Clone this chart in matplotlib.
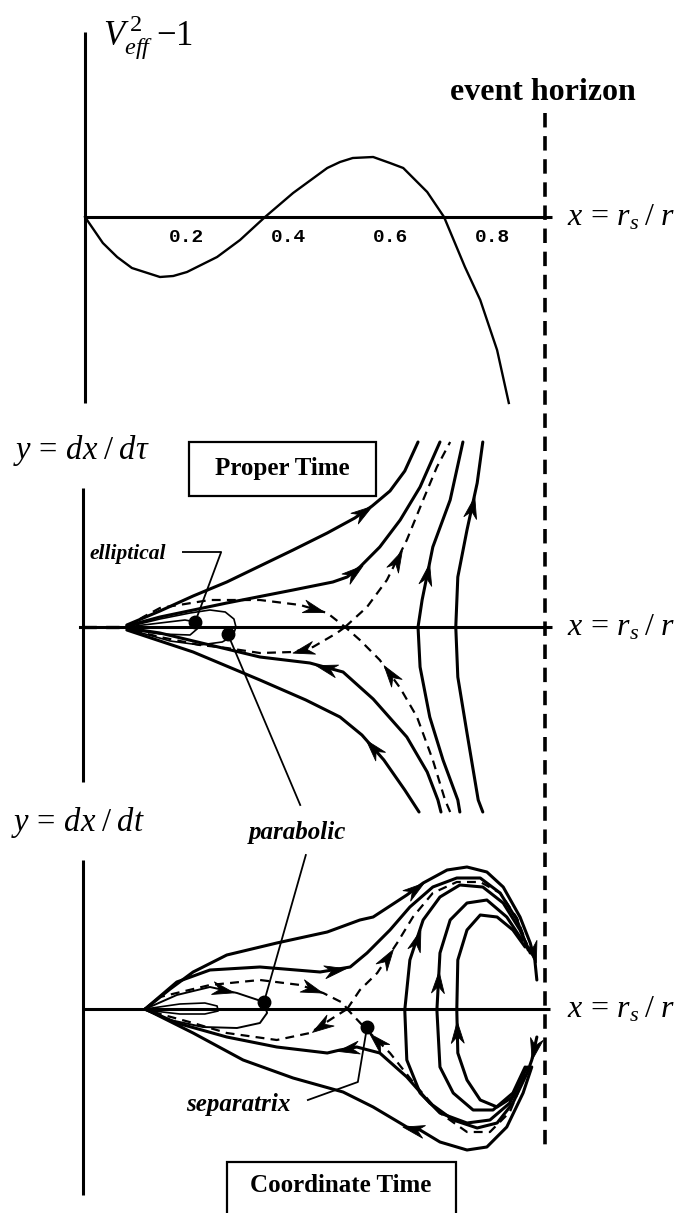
import numpy as np
import matplotlib
matplotlib.use("Agg")
import matplotlib.pyplot as plt
from matplotlib.path import Path
from matplotlib.markers import MarkerStyle
from matplotlib.transforms import Affine2D
from matplotlib.patches import Rectangle
from matplotlib.lines import Line2D

plt.rcParams['mathtext.fontset'] = 'custom'
plt.rcParams['mathtext.rm'] = 'Liberation Serif'
plt.rcParams['mathtext.it'] = 'Liberation Serif:italic'
plt.rcParams['mathtext.bf'] = 'Liberation Serif:bold'
plt.rcParams['font.family'] = ['Liberation Serif', 'DejaVu Serif']

# ---------------- effective potential  V_eff^2 - 1  vs  x = r_s / r ----------------
veff_x = [0.0, 0.035, 0.063, 0.092, 0.147, 0.173, 0.200, 0.259, 0.304, 0.353, 0.408,
          0.475, 0.500, 0.525, 0.565, 0.598, 0.624, 0.671, 0.704, 0.745, 0.775,
          0.808, 0.831]
veff_y = [0.0, -0.26, -0.40, -0.51, -0.60, -0.59, -0.55, -0.40, -0.23, 0.0, 0.24,
          0.49, 0.55, 0.59, 0.60, 0.54, 0.49, 0.25, 0.0, -0.50, -0.83,
          -1.33, -1.86]
tick_values = [0.2, 0.4, 0.6, 0.8]
tick_labels = ["0.2", "0.4", "0.6", "0.8"]
horizon_x = 0.902

# ---------------- phase portrait, proper time: y = dx/dtau ----------------
tau_up_outer = [(0.082, 0.02), (0.147, 0.16), (0.212, 0.31), (0.278, 0.45), (0.343, 0.61),
                (0.408, 0.77), (0.475, 0.94), (0.529, 1.09), (0.563, 1.21), (0.598, 1.36),
                (0.627, 1.56), (0.653, 1.85)]
tau_up_inner = [(0.082, 0.01), (0.147, 0.10), (0.278, 0.24), (0.408, 0.37), (0.486, 0.45),
                (0.514, 0.50), (0.539, 0.60), (0.578, 0.80), (0.618, 1.07), (0.657, 1.40),
                (0.696, 1.85)]
tau_sep_in_upper = [(0.082, 0.0), (0.114, 0.10), (0.147, 0.19), (0.245, 0.27), (0.343, 0.27),
                    (0.422, 0.22), (0.475, 0.14), (0.510, 0.0)]
tau_sep_out_lower = [(0.510, 0.0), (0.494, -0.06), (0.447, -0.20), (0.408, -0.25), (0.343, -0.26),
                     (0.278, -0.21), (0.225, -0.18), (0.147, -0.10), (0.082, -0.02)]
tau_sep_out_upper = [(0.510, 0.0), (0.553, 0.20), (0.592, 0.47), (0.631, 0.87), (0.663, 1.27),
                     (0.690, 1.60), (0.716, 1.85)]
tau_sep_in_lower = [(0.716, -1.85), (0.706, -1.73), (0.682, -1.33), (0.651, -0.90), (0.618, -0.61),
                    (0.578, -0.33), (0.539, -0.13), (0.510, 0.0)]
tau_plunge_1 = [(0.735, -1.85), (0.731, -1.73), (0.702, -1.33), (0.676, -0.90), (0.657, -0.40),
                (0.653, 0.0), (0.661, 0.27), (0.682, 0.80), (0.716, 1.27), (0.741, 1.85)]
tau_plunge_2 = [(0.780, -1.85), (0.771, -1.73), (0.749, -1.06), (0.731, -0.50), (0.727, 0.0),
                (0.731, 0.50), (0.749, 0.97), (0.769, 1.44), (0.780, 1.85)]
tau_lo_inner = [(0.698, -1.85), (0.692, -1.73), (0.671, -1.45), (0.631, -1.10), (0.565, -0.72),
                (0.506, -0.45), (0.441, -0.36), (0.343, -0.30), (0.245, -0.18), (0.147, -0.06),
                (0.082, -0.01)]
tau_lo_outer = [(0.655, -1.85), (0.627, -1.63), (0.586, -1.33), (0.543, -1.08), (0.500, -0.90),
                (0.433, -0.73), (0.343, -0.53), (0.212, -0.25), (0.082, -0.03)]
tau_orbit_big = [(0.082, 0.0), (0.147, 0.08), (0.206, 0.14), (0.245, 0.17), (0.275, 0.15),
                 (0.292, 0.08), (0.296, 0.0), (0.290, -0.09), (0.269, -0.15), (0.225, -0.18),
                 (0.167, -0.14), (0.118, -0.07), (0.082, -0.02)]
tau_orbit_small = [(0.082, 0.0), (0.147, 0.04), (0.196, 0.07), (0.218, 0.05), (0.222, -0.01),
                   (0.206, -0.08), (0.147, -0.07), (0.082, -0.02)]
tau_axis_dash = [(-0.004, 0.0), (0.082, 0.0)]
tau_elliptical_pt = (0.216, 0.05)
tau_parabolic_pt = (0.280, -0.07)

# ---------------- phase portrait, coordinate time: y = dx/dt ----------------
t_up_outer = [(0.118, 0.0), (0.167, 0.20), (0.212, 0.37), (0.278, 0.54), (0.376, 0.66),
              (0.475, 0.77), (0.539, 0.89), (0.565, 0.92), (0.631, 1.14), (0.663, 1.26),
              (0.710, 1.39), (0.749, 1.42), (0.788, 1.37), (0.820, 1.22), (0.853, 0.92),
              (0.873, 0.66), (0.882, 0.49), (0.886, 0.29)]
t_up_inner = [(0.118, 0.0), (0.180, 0.27), (0.245, 0.39), (0.343, 0.42), (0.461, 0.37),
              (0.520, 0.42), (0.553, 0.56), (0.598, 0.79), (0.637, 1.02), (0.682, 1.22),
              (0.729, 1.31), (0.775, 1.31), (0.814, 1.16), (0.847, 0.89), (0.869, 0.59)]
t_sep_in_upper = [(0.118, 0.0), (0.147, 0.12), (0.245, 0.24), (0.343, 0.29), (0.422, 0.24),
                  (0.467, 0.16), (0.506, 0.06), (0.514, 0.0)]
t_sep_out_lower = [(0.514, 0.0), (0.486, -0.09), (0.441, -0.24), (0.376, -0.31), (0.278, -0.24),
                   (0.212, -0.14), (0.147, -0.05), (0.118, 0.0)]
t_sep_out_upper = [(0.514, 0.0), (0.539, 0.19), (0.573, 0.36), (0.612, 0.66), (0.643, 0.92),
                   (0.682, 1.16), (0.729, 1.27), (0.775, 1.27), (0.814, 1.16), (0.847, 0.91),
                   (0.867, 0.64)]
t_sep_in_lower = [(0.863, -0.66), (0.833, -1.03), (0.794, -1.23), (0.749, -1.23), (0.696, -1.04),
                  (0.651, -0.78), (0.598, -0.44), (0.549, -0.19), (0.514, 0.0)]
t_lo_inner = [(0.886, -0.28), (0.876, -0.51), (0.867, -0.64), (0.839, -0.94), (0.808, -1.14),
              (0.769, -1.19), (0.722, -1.11), (0.676, -0.94), (0.631, -0.68), (0.578, -0.44),
              (0.533, -0.38), (0.500, -0.41), (0.475, -0.44), (0.376, -0.38), (0.278, -0.28),
              (0.180, -0.14), (0.118, 0.0)]
t_lo_outer = [(0.876, -0.58), (0.859, -0.84), (0.827, -1.18), (0.788, -1.38), (0.749, -1.41),
              (0.696, -1.33), (0.657, -1.21), (0.631, -1.18), (0.565, -0.98), (0.506, -0.83),
              (0.408, -0.69), (0.310, -0.51), (0.212, -0.24), (0.118, 0.0)]
t_loop_a = [(0.863, -0.61), (0.833, -0.94), (0.794, -1.11), (0.749, -1.14), (0.696, -1.04),
            (0.657, -0.84), (0.631, -0.51), (0.627, -0.01), (0.637, 0.49), (0.663, 0.89),
            (0.696, 1.12), (0.735, 1.24), (0.780, 1.22), (0.820, 1.06), (0.853, 0.79),
            (0.873, 0.56)]
t_loop_b = [(0.863, -0.58), (0.839, -0.84), (0.800, -1.01), (0.761, -1.01), (0.722, -0.84),
            (0.696, -0.58), (0.690, -0.01), (0.696, 0.56), (0.716, 0.89), (0.749, 1.06),
            (0.788, 1.09), (0.827, 0.92), (0.857, 0.69)]
t_loop_c = [(0.867, -0.58), (0.839, -0.88), (0.808, -0.98), (0.775, -0.91), (0.749, -0.71),
            (0.731, -0.44), (0.729, -0.01), (0.731, 0.49), (0.749, 0.79), (0.775, 0.94),
            (0.808, 0.92), (0.839, 0.79), (0.863, 0.62)]
t_orbit_small = [(0.118, 0.0), (0.186, 0.05), (0.235, 0.06), (0.259, 0.03), (0.261, -0.02),
                 (0.235, -0.05), (0.186, -0.05), (0.118, -0.01)]
t_orbit_para = [(0.118, 0.0), (0.180, 0.14), (0.245, 0.22), (0.298, 0.16), (0.351, 0.07),
                (0.357, -0.04), (0.343, -0.14), (0.298, -0.19), (0.231, -0.18), (0.167, -0.11),
                (0.118, -0.01)]
t_parabolic_pt = (0.351, 0.07)
t_separatrix_pt = (0.553, -0.18)

# ---------------- figure layout (pixel bands of each panel) ----------------
W, H = 683, 1213
PX_PER_X = 510.0
X0_PX = 85.0
fig = plt.figure(figsize=(W / 100, H / 100), dpi=100)


def panel(top_px, bot_px, axis_px):
    ax = fig.add_axes([0, 1 - bot_px / H, 1, (bot_px - top_px) / H])
    ax.set_xlim(-X0_PX / PX_PER_X, (W - X0_PX) / PX_PER_X)
    ax.set_ylim(-(bot_px - axis_px) / 100.0, (axis_px - top_px) / 100.0)
    ax.axis('off')
    return ax


ax_v = panel(0, 410, 217)
ax_p = panel(410, 815, 627)
ax_c = panel(815, 1213, 1009)

K = 'black'
# barbed ("stealth") arrowhead pointing along +x, centred on the origin
ARROW_PATH = Path([(0.5, 0.0), (-0.5, 0.30), (-0.18, 0.0), (-0.5, -0.30), (0.5, 0.0)],
                  [Path.MOVETO, Path.LINETO, Path.LINETO, Path.LINETO, Path.CLOSEPOLY])


def curve(ax, pts, lw=2.2, dashed=False):
    xs, ys = zip(*pts)
    ls = (0, (4.0, 2.8)) if dashed else '-'
    ax.plot(xs, ys, color=K, lw=lw, ls=ls, solid_capstyle='round',
            solid_joinstyle='round', clip_on=False)


def arrow(ax, pts, i, sign=1, size=15.5):
    p0, p1 = np.array(pts[i], float), np.array(pts[i + 1], float)
    mid = (p0 + p1) / 2
    d = ax.transData.transform(p1) - ax.transData.transform(p0)
    ang = np.degrees(np.arctan2(d[1], d[0])) + (0 if sign > 0 else 180)
    m = MarkerStyle(ARROW_PATH, transform=Affine2D().rotate_deg(ang))
    ax.plot([mid[0]], [mid[1]], marker=m, ms=size, color=K, mec=K, mew=0.6,
            ls='none', clip_on=False)


def dot(ax, p, size=9):
    ax.plot([p[0]], [p[1]], 'o', color=K, ms=size, clip_on=False)


def axes_lines(ax, x_left, x_right, y_top, y_bot):
    ax.plot([x_left, x_right], [0, 0], color=K, lw=2.2, clip_on=False, solid_capstyle='butt')
    ax.plot([x_left, x_left], [y_bot, y_top], color=K, lw=2.2, clip_on=False, solid_capstyle='butt')


axis_label = r'$x\,=\,r_s\;/\;r$'

# ---------------- top panel ----------------
axes_lines(ax_v, 0.0, 0.916, 1.85, -1.86)
ax_v.plot(veff_x, veff_y, color=K, lw=1.7, clip_on=False, solid_joinstyle='round')
for tv, tl in zip(tick_values, tick_labels):
    ax_v.text(tv, -0.20, tl, family='Liberation Mono', weight='bold', fontsize=14,
              ha='center', va='center')
ax_v.text(0.035, 1.80, r'$V_{eff}^{\,2}\;{-}1$', fontsize=25, ha='left', va='center')
ax_v.text(horizon_x - 0.004, 1.17, 'event horizon', fontsize=23, weight='bold',
          ha='center', va='baseline')
ax_v.text(0.945, -0.08, axis_label, fontsize=23, ha='left', va='baseline')

# ---------------- proper-time panel ----------------
axes_lines(ax_p, -0.004, 0.916, 1.39, -1.55)
ax_p.plot([-0.01, -0.004], [0, 0], color=K, lw=2.2, clip_on=False)
curve(ax_p, tau_axis_dash, lw=2.4, dashed=True)
for c in (tau_up_outer, tau_up_inner, tau_plunge_1, tau_plunge_2, tau_lo_inner, tau_lo_outer):
    curve(ax_p, c)
for c in (tau_sep_in_upper, tau_sep_out_lower, tau_sep_out_upper, tau_sep_in_lower):
    curve(ax_p, c, lw=1.6, dashed=True)
curve(ax_p, tau_orbit_big, lw=1.2)
curve(ax_p, tau_orbit_small, lw=1.2)
arrow(ax_p, tau_up_outer, 7)
arrow(ax_p, tau_up_inner, 5)
arrow(ax_p, tau_sep_in_upper, 5)
arrow(ax_p, tau_sep_out_lower, 2)
arrow(ax_p, tau_sep_out_upper, 2)
arrow(ax_p, tau_sep_in_lower, 4)
arrow(ax_p, tau_plunge_1, 6)
arrow(ax_p, tau_plunge_2, 6)
arrow(ax_p, tau_lo_inner, 5)
arrow(ax_p, tau_lo_outer, 2)
dot(ax_p, tau_elliptical_pt)
dot(ax_p, tau_parabolic_pt)
ax_p.text(-0.141, 1.77, r'$y\,=\,dx\;/\;d\tau$', fontsize=23.5, ha='left', va='center')
ax_p.text(0.945, -0.08, axis_label, fontsize=23, ha='left', va='baseline')
ax_p.add_patch(Rectangle((0.204, 1.31), 0.367, 0.54, fill=False, lw=1.6, ec=K, clip_on=False))
ax_p.text(0.387, 1.58, 'Proper Time', fontsize=18, weight='bold', ha='center', va='center')
ax_p.text(0.008, 0.73, 'elliptical', fontsize=15.5, weight='bold', style='italic',
          ha='left', va='center')
ax_p.plot([0.192, 0.267, tau_elliptical_pt[0]], [0.75, 0.75, tau_elliptical_pt[1]],
          color=K, lw=1.3, clip_on=False)
ax_p.plot([tau_parabolic_pt[0], 0.422], [tau_parabolic_pt[1], -1.78], color=K, lw=1.3,
          clip_on=False)

# ---------------- coordinate-time panel ----------------
axes_lines(ax_c, -0.004, 0.912, 1.49, -1.86)
for c in (t_up_outer, t_up_inner, t_lo_inner, t_lo_outer, t_loop_a, t_loop_b, t_loop_c):
    curve(ax_c, c)
for c in (t_sep_in_upper, t_sep_out_lower, t_sep_out_upper, t_sep_in_lower):
    curve(ax_c, c, lw=1.6, dashed=True)
curve(ax_c, t_orbit_small, lw=1.2)
curve(ax_c, t_orbit_para, lw=1.4)
arrow(ax_c, t_up_outer, 8)
arrow(ax_c, t_up_inner, 4)
arrow(ax_c, t_up_outer, 15)
arrow(ax_c, t_sep_in_upper, 4)
arrow(ax_c, t_sep_out_lower, 1)
arrow(ax_c, t_sep_out_upper, 2)
arrow(ax_c, t_sep_in_lower, 6)
arrow(ax_c, t_lo_inner, 0)
arrow(ax_c, t_lo_inner, 10)
arrow(ax_c, t_lo_outer, 6)
arrow(ax_c, t_loop_a, 8)
arrow(ax_c, t_loop_b, 6)
arrow(ax_c, t_loop_c, 5)
arrow(ax_c, t_orbit_para, 2)
dot(ax_c, t_parabolic_pt)
dot(ax_c, t_separatrix_pt)
ax_c.text(-0.145, 1.86, r'$y\,=\,dx\;/\;dt$', fontsize=23.5, ha='left', va='center')
ax_c.text(0.945, -0.08, axis_label, fontsize=23, ha='left', va='baseline')
ax_c.text(0.416, 1.77, 'parabolic', fontsize=18, weight='bold', style='italic',
          ha='center', va='center')
ax_c.plot([0.433, t_parabolic_pt[0]], [1.54, t_parabolic_pt[1]], color=K, lw=1.3, clip_on=False)
ax_c.text(0.300, -0.96, 'separatrix', fontsize=18, weight='bold', style='italic',
          ha='center', va='center')
ax_c.plot([0.437, 0.535, t_separatrix_pt[0]], [-0.91, -0.73, t_separatrix_pt[1]],
          color=K, lw=1.3, clip_on=False)
ax_c.add_patch(Rectangle((0.278, -2.10), 0.449, 0.57, fill=False, lw=1.6, ec=K, clip_on=False))
ax_c.text(0.502, -1.76, 'Coordinate Time', fontsize=18, weight='bold', ha='center', va='center')

# ---------------- event horizon through all panels ----------------
p_top = fig.transFigure.inverted().transform(ax_v.transData.transform((horizon_x, 1.04)))
p_bot = fig.transFigure.inverted().transform(ax_c.transData.transform((horizon_x, -1.41)))
fig.add_artist(Line2D([p_top[0], p_bot[0]], [p_top[1], p_bot[1]], transform=fig.transFigure,
                      color=K, lw=2.6, ls=(0, (4.0, 2.4))))

fig.savefig('out.png', dpi=100, facecolor='white')
